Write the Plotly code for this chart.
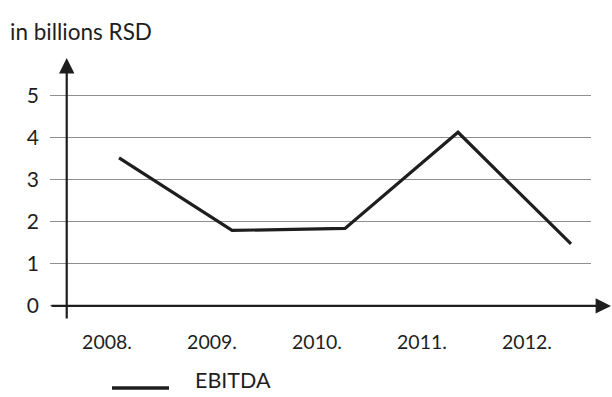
import plotly.graph_objects as go

# EBITDA, in billions RSD
years = [2008, 2009, 2010, 2011, 2012]
year_labels = ["2008.", "2009.", "2010.", "2011.", "2012."]
ebitda = [3.51, 1.79, 1.84, 4.12, 1.47]
y_ticks = [0, 1, 2, 3, 4, 5]
series_name = "EBITDA"
unit_label = "in billions RSD"

FONT = "Lato"
INK = "#1e1e1e"

fig = go.Figure()

fig.add_trace(go.Scatter(
    x=years, y=ebitda, mode="lines", name=series_name,
    line=dict(color=INK, width=3.2), showlegend=False,
    hoverinfo="x+y",
))

# category axis that carries the year labels
fig.add_trace(go.Scatter(
    x=year_labels, y=[None] * len(year_labels), xaxis="x2",
    mode="lines", showlegend=False, hoverinfo="skip",
))

fig.update_layout(
    width=612, height=397,
    margin=dict(l=50, r=21, t=53, b=70),
    paper_bgcolor="white", plot_bgcolor="white",
    font=dict(family=FONT, color=INK),
    xaxis=dict(
        range=[2007.389, 2012.177], showgrid=False, zeroline=False,
        showticklabels=False, showline=False, fixedrange=True,
    ),
    xaxis2=dict(
        type="category", overlaying="x", anchor="y", side="bottom",
        range=[-0.543, 4.61], showgrid=False, zeroline=False, showline=False,
        tickmode="array", tickvals=year_labels, ticktext=year_labels,
        tickfont=dict(size=19.5, family=FONT, color=INK),
        ticks="", ticklabelstandoff=1,
    ),
    yaxis=dict(
        range=[-0.5, 6.0], tickvals=y_ticks, showgrid=True,
        gridcolor="#8f8f8f", gridwidth=1.2, zeroline=False, showline=False,
        tickfont=dict(size=21, family=FONT, color=INK),
        ticks="", ticklabelstandoff=10,
    ),
    annotations=[
        # horizontal axis with arrow
        dict(x=1.0388, y=0, xref="paper", yref="y", ax=-562, ay=0,
             text="", showarrow=True, arrowhead=2, arrowsize=1.4,
             arrowwidth=2.2, arrowcolor=INK, standoff=0),
        # vertical axis with arrow
        dict(x=0.0309, y=0.9818, xref="paper", yref="paper", ax=0, ay=262,
             text="", showarrow=True, arrowhead=2, arrowsize=1.4,
             arrowwidth=2.2, arrowcolor=INK, standoff=0),
        # unit label
        dict(x=-0.078, y=1.080, xref="paper", yref="paper", xanchor="left",
             yanchor="middle", text=unit_label, showarrow=False,
             font=dict(size=22.5, family=FONT, color=INK)),
        # legend text
        dict(x=0.265, y=-0.1934, xref="paper", yref="paper", xanchor="left",
             yanchor="middle", text=series_name, showarrow=False,
             font=dict(size=21.5, family=FONT, color=INK)),
    ],
    shapes=[
        # legend swatch
        dict(type="line", xref="paper", yref="paper",
             x0=0.1146, x1=0.2200, y0=-0.2226, y1=-0.2226,
             line=dict(color=INK, width=3.5)),
    ],
)

fig.write_html("out.html")
